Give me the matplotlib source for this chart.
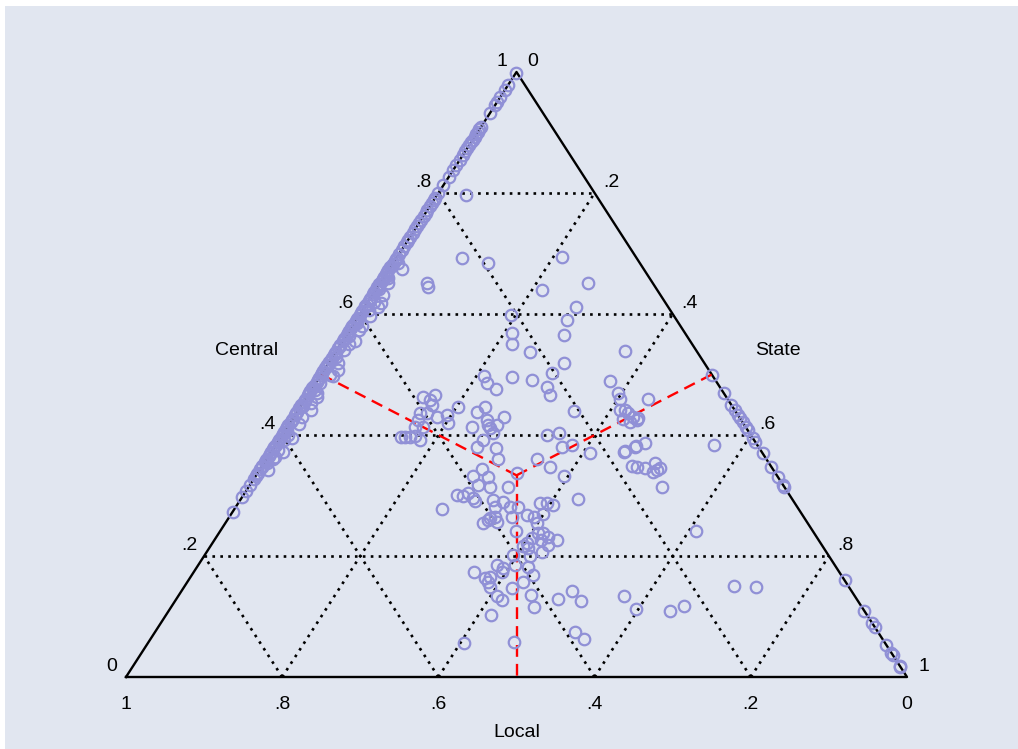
import matplotlib
matplotlib.use("Agg")
import matplotlib.pyplot as plt
from matplotlib.patches import Rectangle

plt.rcParams["font.family"] = ["Liberation Sans", "DejaVu Sans"]

# ---- data: spending shares by level of government -------------------------
# observations with no state share (left edge): central share
central_edge = [
    0.998, 0.979, 0.970, 0.959, 0.950, 0.945, 0.932, 0.909, 0.905, 0.901,
    0.897, 0.893, 0.888, 0.884, 0.879, 0.874, 0.869, 0.862, 0.855, 0.846,
    0.838, 0.826, 0.813, 0.800, 0.792, 0.788, 0.783, 0.778, 0.772, 0.767,
    0.762, 0.756, 0.750, 0.745, 0.740, 0.734, 0.728, 0.723, 0.719, 0.712,
    0.706, 0.700, 0.693, 0.688, 0.683, 0.677, 0.672, 0.666, 0.661, 0.655,
    0.649, 0.644, 0.639, 0.633, 0.627, 0.622, 0.616, 0.611, 0.605, 0.599,
    0.594, 0.588, 0.583, 0.577, 0.572, 0.566, 0.560, 0.555, 0.549, 0.544,
    0.538, 0.533, 0.527, 0.521, 0.516, 0.510, 0.505, 0.499, 0.494, 0.488,
    0.483, 0.477, 0.472, 0.466, 0.460, 0.455, 0.449, 0.444, 0.438, 0.433,
    0.427, 0.422, 0.416, 0.410, 0.405, 0.399, 0.394, 0.388, 0.383, 0.377,
    0.372, 0.366, 0.360, 0.355, 0.349, 0.344, 0.338, 0.333, 0.327, 0.318,
    0.307, 0.297, 0.273,
    0.691, 0.680, 0.669, 0.658, 0.647, 0.636, 0.625, 0.613, 0.602, 0.591,
    0.580, 0.569, 0.558, 0.547, 0.536, 0.524, 0.513, 0.502, 0.491, 0.480,
    0.469, 0.458, 0.447, 0.436, 0.425, 0.413, 0.402, 0.391, 0.380, 0.369,
    0.358, 0.347, 0.336,
]

# observations with no local share (right edge): central share
central_no_local = [
    0.499, 0.469, 0.450, 0.441, 0.433, 0.428, 0.421, 0.413, 0.408, 0.395,
    0.388, 0.370, 0.347, 0.331, 0.317, 0.314, 0.160, 0.109, 0.089, 0.083,
    0.053, 0.040, 0.036, 0.018, 0.017,
]

# observations with all three levels present: central and state shares
central_mix = [
    0.797, 0.693, 0.684, 0.694, 0.651, 0.645, 0.640, 0.651, 0.612, 0.598,
    0.590, 0.569, 0.550, 0.565, 0.537, 0.539, 0.519, 0.502, 0.498, 0.496,
    0.491, 0.489, 0.486, 0.476, 0.479, 0.466, 0.469, 0.460, 0.463, 0.458,
    0.466, 0.450, 0.436, 0.436, 0.430, 0.425, 0.413, 0.413, 0.446, 0.433,
    0.420, 0.397, 0.397, 0.398, 0.392, 0.397, 0.438, 0.446, 0.425, 0.417,
    0.412, 0.417, 0.430, 0.403, 0.413, 0.392, 0.380, 0.379, 0.360, 0.400,
    0.403, 0.380, 0.383, 0.440, 0.370, 0.360, 0.347, 0.332, 0.372, 0.349,
    0.347, 0.380, 0.441, 0.436, 0.430, 0.425, 0.421, 0.337, 0.344, 0.332,
    0.331, 0.317, 0.314, 0.314, 0.301, 0.299, 0.304, 0.296, 0.291, 0.278,
    0.293, 0.289, 0.281, 0.281, 0.281, 0.264, 0.263, 0.256, 0.255, 0.260,
    0.264, 0.268, 0.264, 0.255, 0.269, 0.288, 0.284, 0.288, 0.294, 0.241,
    0.238, 0.231, 0.238, 0.226, 0.221, 0.217, 0.230, 0.226, 0.218, 0.207,
    0.213, 0.202, 0.200, 0.182, 0.169, 0.185, 0.180, 0.174, 0.185, 0.174,
    0.164, 0.165, 0.157, 0.149, 0.147, 0.157, 0.136, 0.116, 0.134, 0.127,
    0.102, 0.056, 0.058, 0.129, 0.142, 0.126, 0.074, 0.063, 0.134, 0.112,
    0.460, 0.441, 0.426, 0.428, 0.383, 0.382, 0.387, 0.374, 0.345, 0.354,
    0.342, 0.345, 0.339, 0.314, 0.241, 0.109, 0.117, 0.150, 0.149,
    0.620, 0.550, 0.470, 0.400, 0.660, 0.580, 0.500, 0.430, 0.360,
    0.685, 0.652, 0.631, 0.607, 0.574, 0.541, 0.519, 0.486, 0.453, 0.418,
    0.391, 0.363, 0.342, 0.596, 0.529, 0.462, 0.376,
    0.674, 0.641, 0.618, 0.585, 0.556, 0.508, 0.475, 0.441, 0.407, 0.372,
    0.353, 0.663, 0.612, 0.563, 0.497, 0.448, 0.395,
]
state_mix = [
    0.037, 0.084, 0.121, 0.211, 0.060, 0.064, 0.213, 0.266, 0.270, 0.194,
    0.270, 0.210, 0.219, 0.278, 0.249, 0.370, 0.301, 0.294, 0.210, 0.246,
    0.274, 0.375, 0.219, 0.236, 0.299, 0.310, 0.395, 0.403, 0.149, 0.160,
    0.163, 0.167, 0.158, 0.167, 0.183, 0.162, 0.163, 0.174, 0.202, 0.195,
    0.202, 0.159, 0.165, 0.171, 0.181, 0.153, 0.230, 0.237, 0.250, 0.255,
    0.260, 0.267, 0.269, 0.268, 0.236, 0.261, 0.259, 0.284, 0.296, 0.339,
    0.353, 0.368, 0.379, 0.354, 0.409, 0.346, 0.369, 0.395, 0.452, 0.474,
    0.481, 0.462, 0.418, 0.425, 0.434, 0.442, 0.435, 0.332, 0.284, 0.278,
    0.298, 0.292, 0.309, 0.332, 0.273, 0.282, 0.286, 0.296, 0.301, 0.266,
    0.324, 0.338, 0.332, 0.351, 0.361, 0.340, 0.335, 0.347, 0.330, 0.334,
    0.362, 0.380, 0.391, 0.399, 0.399, 0.395, 0.405, 0.386, 0.432, 0.379,
    0.415, 0.425, 0.409, 0.439, 0.403, 0.400, 0.405, 0.418, 0.431, 0.429,
    0.408, 0.395, 0.417, 0.424, 0.436, 0.382, 0.393, 0.395, 0.406, 0.359,
    0.378, 0.383, 0.385, 0.392, 0.421, 0.430, 0.450, 0.465, 0.408, 0.418,
    0.416, 0.405, 0.468, 0.489, 0.500, 0.519, 0.538, 0.555, 0.571, 0.597,
    0.439, 0.412, 0.423, 0.442, 0.562, 0.462, 0.471, 0.452, 0.492, 0.500,
    0.509, 0.511, 0.505, 0.529, 0.609, 0.642, 0.656, 0.703, 0.732,
    0.008, 0.010, 0.009, 0.007, 0.006, 0.012, 0.011, 0.010, 0.008,
    0.006, 0.009, 0.013, 0.007, 0.011, 0.008, 0.012, 0.006, 0.010, 0.013,
    0.007, 0.009, 0.011, 0.014, 0.005, 0.013, 0.006,
    0.016, 0.004, 0.018, 0.003, 0.015, 0.017, 0.004, 0.016, 0.003, 0.015,
    0.004, 0.003, 0.017, 0.004, 0.016, 0.003, 0.015,
]

# tick values shared by all three axes
tick_values = [0.0, 0.2, 0.4, 0.6, 0.8, 1.0]
tick_labels = ["0", ".2", ".4", ".6", ".8", "1"]
grid_levels = [0.2, 0.4, 0.6, 0.8]

# equal-share point and the midpoints of the three edges (central, state)
centre_share = (1 / 3, 1 / 3)
split_central = [0.5, 0.5, 0.0]
split_state = [0.0, 0.5, 0.5]

# ---- helpers ---------------------------------------------------------------
def tern(central, state):
    """Map (central, state) shares onto plane coordinates of the triangle."""
    return state + central / 2.0, central


# ---- figure ----------------------------------------------------------------
W, H = 1018, 749
fig = plt.figure(figsize=(W / 100, H / 100), dpi=100)
fig.patch.set_facecolor("white")
fig.add_artist(Rectangle((5 / W, 0), 1 - 5 / W, 1 - 6 / H,
                         transform=fig.transFigure, facecolor="#E1E6F0",
                         edgecolor="none", zorder=0))

ax = fig.add_axes([126 / W, (H - 677) / H, 781 / W, 605 / H])
ax.set_xlim(0, 1)
ax.set_ylim(0, 1)
ax.axis("off")

dot = dict(color="black", lw=1.9, linestyle=(0, (1, 2.0)), zorder=2)
for v in grid_levels:
    # constant central share
    x0, y0 = tern(v, 0.0)
    x1, y1 = tern(v, 1 - v)
    ax.plot([x0, x1], [y0, y1], **dot)
    # constant state share
    x0, y0 = tern(0.0, v)
    x1, y1 = tern(1 - v, v)
    ax.plot([x0, x1], [y0, y1], **dot)
    # constant local share
    x0, y0 = tern(0.0, 1 - v)
    x1, y1 = tern(1 - v, 0.0)
    ax.plot([x0, x1], [y0, y1], **dot)

# triangle outline
cx, cy = zip(*[tern(0, 0), tern(0, 1), tern(1, 0), tern(0, 0)])
ax.plot(cx, cy, color="black", lw=1.7, zorder=3, clip_on=False)

# equal-share dividing lines
mx, my = tern(*centre_share)
for c_end, s_end in zip(split_central, split_state):
    ex, ey = tern(c_end, s_end)
    ax.plot([mx, ex], [my, ey], color="#FF0000", lw=1.7,
            linestyle=(0, (5, 3.0)), zorder=4, clip_on=False)

# observations
all_c = list(central_edge) + list(central_no_local) + list(central_mix)
all_s = [0.0] * len(central_edge) + [1 - c for c in central_no_local] + list(state_mix)
px, py = zip(*[tern(c, s) for c, s in zip(all_c, all_s)])
ax.plot(px, py, linestyle="none", marker="o", ms=8.3, mfc="none",
        mec="#9090D6", mew=1.6, zorder=5, clip_on=False)

# tick labels
fs = 14
for v, lab in zip(tick_values, tick_labels):
    # central (left edge)
    ax.annotate(lab, tern(v, 0.0), xytext=(-10.5, 7.5), textcoords="offset points",
                ha="center", va="center", fontsize=fs)
    # state (right edge)
    ax.annotate(lab, tern(1 - v, v), xytext=(12, 7.5), textcoords="offset points",
                ha="center", va="center", fontsize=fs)
    # local (bottom edge)
    ax.annotate(lab, tern(0.0, 1 - v), xytext=(0, -20), textcoords="offset points",
                ha="center", va="center", fontsize=fs)

# axis titles
ax.annotate("Central", tern(0.5, 0.0), xytext=(-54, 17), textcoords="offset points",
            ha="center", va="center", fontsize=fs)
ax.annotate("State", tern(0.5, 0.5), xytext=(48, 17), textcoords="offset points",
            ha="center", va="center", fontsize=fs)
ax.annotate("Local", tern(0.0, 0.5), xytext=(0, -40), textcoords="offset points",
            ha="center", va="center", fontsize=fs)

fig.savefig("out.png", dpi=100, facecolor=fig.get_facecolor())
